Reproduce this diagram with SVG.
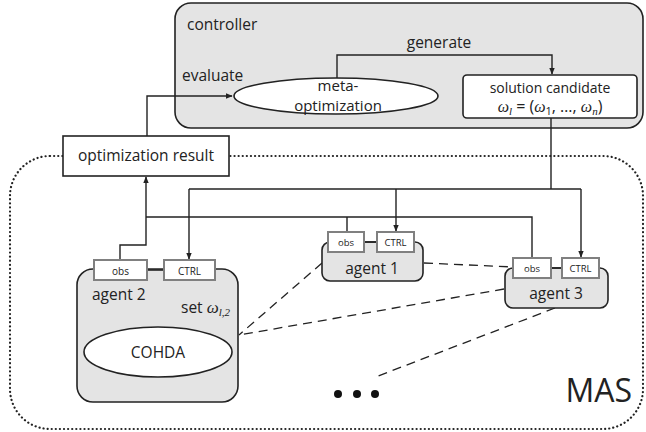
<svg xmlns="http://www.w3.org/2000/svg" width="646" height="432" viewBox="0 0 646 432">
<style>
text{font-family:"Open Sans","Liberation Sans",sans-serif;fill:#222}
.m{font-family:"Liberation Serif",serif;font-style:italic}
.grp{fill:#e4e4e4;stroke:#222;stroke-width:1.6}
.wb{fill:#fff;stroke:#222;stroke-width:1.6}
.sb{fill:#fff;stroke:#808080;stroke-width:2}
.ln{fill:none;stroke:#222;stroke-width:1.4}
.ds{fill:none;stroke:#222;stroke-width:1.3;stroke-dasharray:9 6}
</style>
<defs>
<marker id="ah" viewBox="0 0 10 10" refX="9" refY="5" markerWidth="7" markerHeight="7" orient="auto" markerUnits="userSpaceOnUse"><path d="M0,1 L10,5 L0,9 z" fill="#222"/></marker>
</defs>
<g id="mas">
<rect x="10" y="156" width="633" height="273" rx="40" fill="none" stroke="#222" stroke-width="2.2" stroke-dasharray="0.1 4" stroke-linecap="round"/>
<text x="632" y="402" font-size="32" text-anchor="end">MAS</text>
</g>
<g id="controller">
<rect x="175" y="3" width="468" height="125" rx="16" class="grp"/>
<text x="187" y="30" font-size="15.5">controller</text>
</g>
<g id="connectors">
<polyline class="ln" points="337,78 337,55 552,55 552,74" marker-end="url(#ah)"/>
<polyline class="ln" points="147,136 147,96 232,96" marker-end="url(#ah)"/>
<polyline class="ln" points="551,118 551,189"/>
<polyline class="ln" points="189,189 581,189"/>
<polyline class="ln" points="396,189 396,231" marker-end="url(#ah)"/>
<polyline class="ln" points="581,189 581,257" marker-end="url(#ah)"/>
<polyline class="ln" points="189,189 189,259" marker-end="url(#ah)"/>
<polyline class="ln" points="146,217 532,217 532,258"/>
<polyline class="ln" points="347,217 347,232"/>
<polyline class="ln" points="120,260 120,245 146,245 146,177" marker-end="url(#ah)"/>
<line class="ln" x1="189" y1="280" x2="159" y2="326" marker-end="url(#ah)"/>
<line class="ds" x1="322" y1="263" x2="239" y2="335"/>
<line class="ds" x1="504" y1="289" x2="239" y2="335"/>
<line class="ds" x1="424" y1="263" x2="513" y2="267"/>
<line class="ds" x1="555" y1="308" x2="373" y2="378"/>
<text x="439" y="48" font-size="15.5" text-anchor="middle">generate</text>
<text x="182" y="81" font-size="15.5">evaluate</text>
</g>
<g id="meta-optimization">
<ellipse cx="336" cy="96" rx="102" ry="18" class="wb"/>
<text x="338" y="91" font-size="15" text-anchor="middle">meta-</text>
<text x="338" y="111" font-size="15" text-anchor="middle">optimization</text>
</g>
<g id="solution-candidate">
<rect x="463" y="75" width="174" height="43" rx="4" class="wb"/>
<text x="550" y="93" font-size="14" text-anchor="middle">solution candidate</text>
<text x="550" y="112" font-size="16" text-anchor="middle"><tspan class="m">ω</tspan><tspan class="m" font-size="11" dy="3">l</tspan><tspan dy="-3"> = (</tspan><tspan class="m">ω</tspan><tspan font-size="11" dy="3">1</tspan><tspan dy="-3">, …, </tspan><tspan class="m">ω</tspan><tspan class="m" font-size="11" dy="3">n</tspan><tspan dy="-3">)</tspan></text>
</g>
<g id="optimization-result">
<rect x="63" y="136" width="166" height="40" class="wb" stroke="#666"/>
<text x="146" y="161" font-size="15.5" text-anchor="middle">optimization result</text>
</g>
<g id="agent-2">
<rect x="77" y="269" width="161" height="133" rx="16" class="grp"/>
<line x1="147" y1="270" x2="164" y2="270" stroke="#222" stroke-width="1.6"/>
<rect x="94" y="260" width="53" height="20" class="sb"/>
<text x="120.5" y="274.5" font-size="10" text-anchor="middle">obs</text>
<rect x="164" y="260" width="51" height="20" class="sb"/>
<text x="189.5" y="274.5" font-size="10" text-anchor="middle">CTRL</text>
<text x="92" y="300" font-size="15.5">agent 2</text>
<text x="181" y="313" font-size="15.5">set <tspan class="m" font-size="17">ω</tspan><tspan class="m" font-size="11" dy="3">l,2</tspan></text>
<ellipse cx="158" cy="352" rx="74" ry="25" class="wb"/>
<text x="158" y="358" font-size="15.5" text-anchor="middle">COHDA</text>
</g>
<g id="agent-1">
<rect x="322" y="242" width="101" height="39" rx="8" class="grp"/>
<line x1="364" y1="242" x2="377" y2="242" stroke="#222" stroke-width="1.6"/>
<rect x="328" y="232" width="36" height="20" class="sb"/>
<text x="346" y="246" font-size="9.5" text-anchor="middle">obs</text>
<rect x="377" y="232" width="37" height="20" class="sb"/>
<text x="395.5" y="246" font-size="9.5" text-anchor="middle">CTRL</text>
<text x="372" y="274" font-size="15.5" text-anchor="middle">agent 1</text>
</g>
<g id="agent-3">
<rect x="505" y="268" width="103" height="40" rx="8" class="grp"/>
<line x1="551" y1="268" x2="562" y2="268" stroke="#222" stroke-width="1.6"/>
<rect x="513" y="258" width="38" height="20" class="sb"/>
<text x="532" y="272" font-size="9.5" text-anchor="middle">obs</text>
<rect x="562" y="258" width="37" height="20" class="sb"/>
<text x="580.5" y="272" font-size="9.5" text-anchor="middle">CTRL</text>
<text x="556" y="299" font-size="15.5" text-anchor="middle">agent 3</text>
</g>
<g id="ellipsis">
<circle cx="338" cy="394" r="4" fill="#111"/>
<circle cx="357" cy="394" r="4" fill="#111"/>
<circle cx="375" cy="394" r="4" fill="#111"/>
</g>
</svg>
